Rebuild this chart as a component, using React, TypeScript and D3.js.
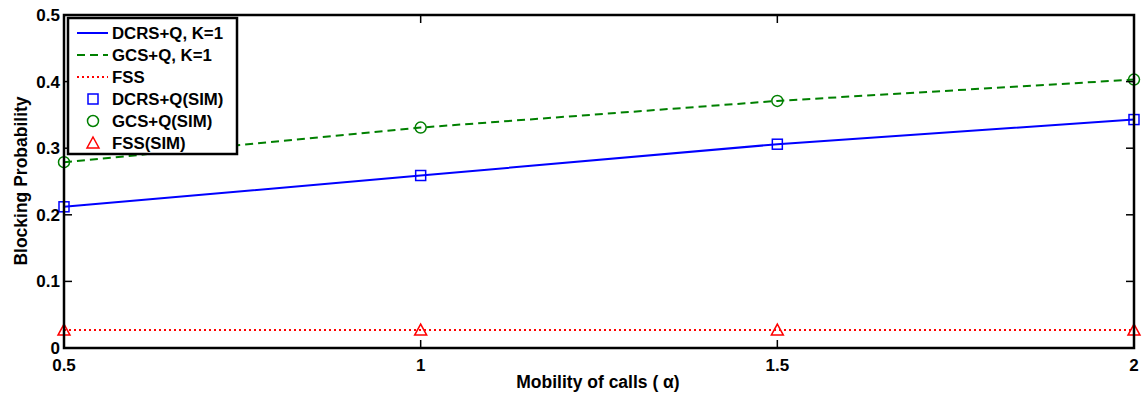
import React from "react";
import * as d3 from "d3";

const xVals = [0.5, 1, 1.5, 2];
const dcrs = [0.212, 0.259, 0.306, 0.343];
const gcs = [0.279, 0.331, 0.371, 0.403];
const fss = [0.027, 0.027, 0.027, 0.027];
const xTicks = [0.5, 1, 1.5, 2];
const yTicks = [0, 0.1, 0.2, 0.3, 0.4, 0.5];

const W = 1144, H = 394;
const L = 64, R = 1134, T = 15, B = 348;

export default function App() {
  const x = d3.scaleLinear().domain([0.5, 2]).range([L, R]);
  const y = d3.scaleLinear().domain([0, 0.5]).range([B, T]);
  const line = d3.line<number>().x((_, i) => x(xVals[i])).y((d) => y(d));
  const font = "Arial, Liberation Sans, sans-serif";
  const tl = 8;
  const legend = [
    { label: "DCRS+Q, K=1", kind: "line", color: "#0000ff", dash: "" },
    { label: "GCS+Q, K=1", kind: "line", color: "#008000", dash: "8,5" },
    { label: "FSS", kind: "line", color: "#ff0000", dash: "2,3" },
    { label: "DCRS+Q(SIM)", kind: "square", color: "#0000ff" },
    { label: "GCS+Q(SIM)", kind: "circle", color: "#008000" },
    { label: "FSS(SIM)", kind: "tri", color: "#ff0000" },
  ];
  const marker = (kind: string, cx: number, cy: number, color: string, key: any) => {
    if (kind === "square")
      return <rect key={key} x={cx - 5} y={cy - 5} width={10} height={10} fill="none" stroke={color} strokeWidth={1.5} />;
    if (kind === "circle")
      return <circle key={key} cx={cx} cy={cy} r={5.5} fill="none" stroke={color} strokeWidth={1.5} />;
    return <path key={key} d={`M${cx},${cy - 6}L${cx + 6},${cy + 5}L${cx - 6},${cy + 5}Z`} fill="none" stroke={color} strokeWidth={1.5} />;
  };
  return (
    <svg width={W} height={H} style={{ position: "absolute", left: 0, top: 0 }} fontFamily={font}>
      <rect x={0} y={0} width={W} height={H} fill="#fff" />
      <path d={line(fss)!} fill="none" stroke="#ff0000" strokeWidth={2} strokeDasharray="2,3" />
      <path d={line(gcs)!} fill="none" stroke="#008000" strokeWidth={2} strokeDasharray="8,5" />
      <path d={line(dcrs)!} fill="none" stroke="#0000ff" strokeWidth={2} />
      {dcrs.map((v, i) => marker("square", x(xVals[i]), y(v), "#0000ff", "s" + i))}
      {gcs.map((v, i) => marker("circle", x(xVals[i]), y(v), "#008000", "c" + i))}
      {fss.map((v, i) => marker("tri", x(xVals[i]), y(v), "#ff0000", "t" + i))}
      {yTicks.map((t) => (
        <g key={"y" + t}>
          <line x1={L} x2={L + tl} y1={y(t)} y2={y(t)} stroke="#000" strokeWidth={1.5} />
          <line x1={R} x2={R - tl} y1={y(t)} y2={y(t)} stroke="#000" strokeWidth={1.5} />
          <text x={L - 4} y={y(t) + 6} textAnchor="end" fontSize={17} fontWeight="bold">{t === 0 ? "0" : String(t)}</text>
        </g>
      ))}
      {xTicks.map((t) => (
        <g key={"x" + t}>
          <line x1={x(t)} x2={x(t)} y1={B} y2={B - tl} stroke="#000" strokeWidth={1.5} />
          <line x1={x(t)} x2={x(t)} y1={T} y2={T + tl} stroke="#000" strokeWidth={1.5} />
          <text x={x(t)} y={B + 23} textAnchor="middle" fontSize={17} fontWeight="bold">{String(t)}</text>
        </g>
      ))}
      <rect x={L} y={T} width={R - L} height={B - T} fill="none" stroke="#000" strokeWidth={2.5} />
      <rect x={68} y={18} width={169} height={136} fill="#fff" stroke="#000" strokeWidth={2.5} />
      {legend.map((e, i) => {
        const ly = 33 + i * 22;
        return (
          <g key={e.label}>
            {e.kind === "line" ? (
              <line x1={77} x2={108} y1={ly} y2={ly} stroke={e.color} strokeWidth={2} strokeDasharray={e.dash} />
            ) : (
              marker(e.kind, 93, ly, e.color, "lm" + i)
            )}
            <text x={112} y={ly + 6} fontSize={16.8} fontWeight="bold">{e.label}</text>
          </g>
        );
      })}
      <text x={598} y={388} textAnchor="middle" fontSize={17.5} fontWeight="bold">Mobility of calls ( α)</text>
      <text transform={`translate(27,181) rotate(-90)`} textAnchor="middle" fontSize={17.5} fontWeight="bold">Blocking Probability</text>
    </svg>
  );
}
